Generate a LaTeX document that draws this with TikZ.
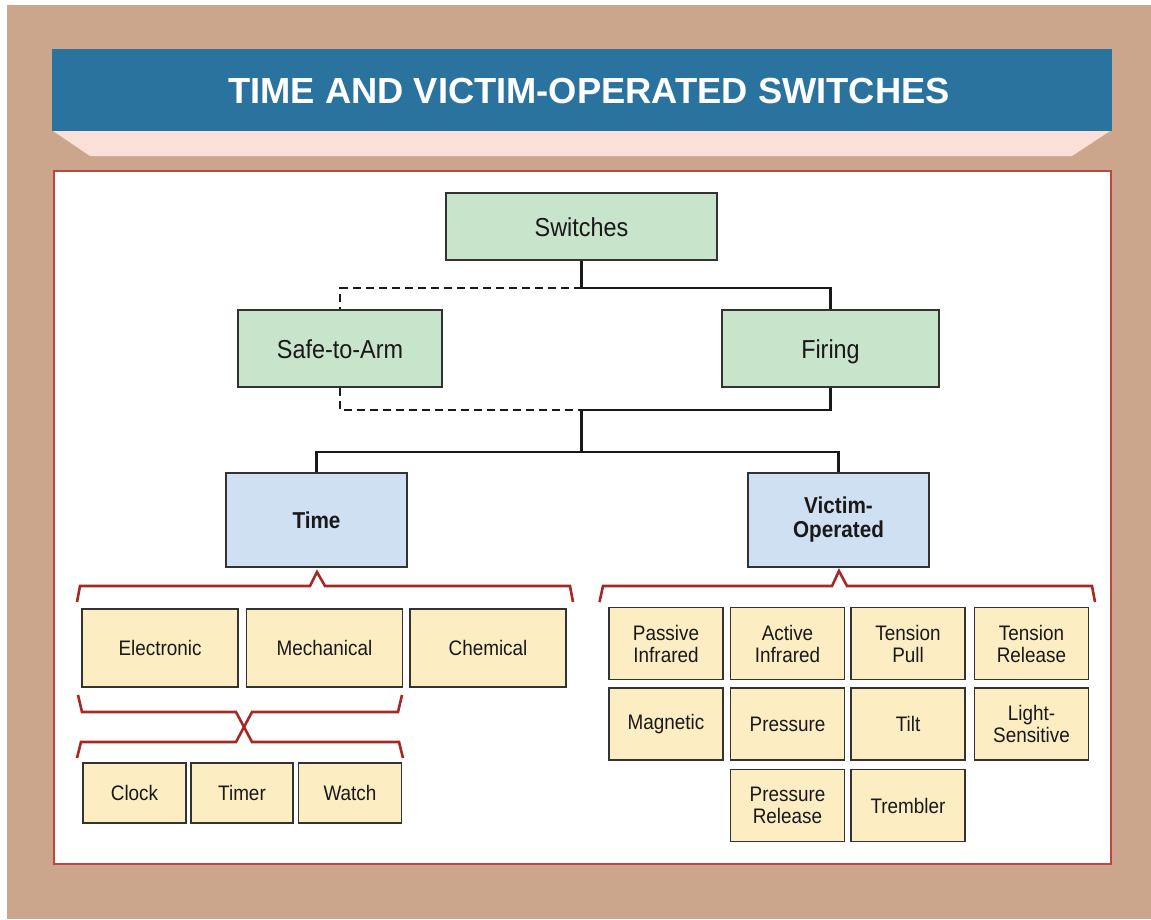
\documentclass[tikz,border=0pt]{standalone}
\usepackage{fontspec}
\setmainfont{Liberation Sans}
\newfontfamily\narrowfont[FakeStretch=0.9]{Liberation Sans}
\usetikzlibrary{positioning}
\definecolor{frameTan}{RGB}{203,166,140}
\definecolor{bannerBlue}{RGB}{42,115,158}
\definecolor{stripPink}{RGB}{250,224,214}
\definecolor{panelRed}{RGB}{190,70,60}
\definecolor{swGreen}{RGB}{200,228,202}
\definecolor{catBlue}{RGB}{207,224,243}
\definecolor{leafYellow}{RGB}{253,237,195}
\definecolor{bracketRed}{RGB}{165,40,35}

\begin{document}
\begin{tikzpicture}[x=1pt, y=-1pt,
  swbox/.style={draw=black!80, line width=1.5pt, fill=swGreen, inner sep=0pt, minimum height=77pt, text height=24pt, text depth=5pt, align=center, font=\narrowfont\fontsize{26}{29}\selectfont, text=black!90},
  catbox/.style={draw=black!80, line width=1.5pt, fill=catBlue, inner sep=0pt, minimum width=181pt, minimum height=94pt, align=center, font=\narrowfont\bfseries\fontsize{23}{24}\selectfont, text=black!90},
  leaf/.style={draw=black!80, line width=1.5pt, fill=leafYellow, inner sep=0pt, align=center, font=\narrowfont\fontsize{21}{22}\selectfont, text=black!90},
  vleaf/.style={leaf, minimum width=114pt, minimum height=72pt},
  conn/.style={line width=2.2pt, black!90},
  dashconn/.style={conn, line width=2.7pt, dash pattern=on 8pt off 5pt},
  brk/.style={line width=2.6pt, bracketRed, line join=miter}
]
  \useasboundingbox (0,0) rectangle (1151,919);
  % frame, banner and panel
  \fill[white] (0,0) rectangle (1151,919);
  \fill[frameTan] (7,5) rectangle (1151,919);
  \fill[bannerBlue] (52,49) rectangle (1112,131);
  \fill[stripPink] (53,131) -- (1110,131) -- (1072,156) -- (90,156) -- cycle;
  \draw[panelRed, line width=1.5pt, fill=white] (54,171) rectangle (1111,864);
  \node[anchor=base, text=white, font=\bfseries\fontsize{36.3}{40}\selectfont] (title) at (589,103) {TIME AND VICTIM-OPERATED SWITCHES};

  % top: switches
  \node[swbox, minimum width=271pt, minimum height=67pt] (sw) at (581.5,226.5) {Switches};
  \node[swbox, minimum width=204pt] (safe) at (340,348.5) {Safe-to-Arm};
  \node[swbox, minimum width=217pt] (fire) at (830.5,348.5) {Firing};

  \coordinate (j1) at (581.5,288);
  \coordinate (j2) at (581.5,410);
  \coordinate (j3) at (581.5,452);
  \draw[conn] (sw.south) -- (j1) -| (fire.north);
  \draw[dashconn] (j1) -| (safe.north);
  \draw[conn] (fire.south) |- (j2) -- (j3);
  \draw[dashconn] (safe.south) |- (j2);

  % middle: categories
  \node[catbox] (time) at (316.5,520) {Time};
  \node[catbox] (victim) at (838.5,520) {Victim-\\Operated};
  \draw[conn] (time.north) |- (j3) -| (victim.north);

  % time switches
  \draw[brk] (77,602) -- (80,586) -- (310,586) -- (317,572) -- (325,586) -- (570,586) -- (573,602);
  \node[leaf, minimum width=156pt, minimum height=78pt] (elec) at (160,648) {Electronic};
  \node[leaf, minimum width=156pt, minimum height=78pt] (mech) at (324.5,648) {Mechanical};
  \node[leaf, minimum width=156pt, minimum height=78pt] (chem) at (488,648) {Chemical};

  \draw[brk] (78,695) -- (82,712) -- (236,712) -- (252,742) -- (399,742) -- (403,758);
  \draw[brk] (77,758) -- (81,742) -- (236,742) -- (252,712) -- (398,712) -- (402,695);
  \node[leaf, minimum width=103pt, minimum height=60pt] (clock) at (134.5,793) {Clock};
  \node[leaf, minimum width=102pt, minimum height=60pt] (timer) at (242,793) {Timer};
  \node[leaf, minimum width=103pt, minimum height=60pt] (watch) at (350,793) {Watch};

  % victim-operated switches
  \draw[brk] (599.5,602) -- (603,586) -- (832,586) -- (839,571) -- (847,586) -- (1092,586) -- (1095,602);
  \node[vleaf] (pir) at (666,643.5) {Passive\\Infrared};
  \node[vleaf] (air) at (787.5,643.5) {Active\\Infrared};
  \node[vleaf] (tpull) at (908,643.5) {Tension\\Pull};
  \node[vleaf] (trel) at (1031.5,643.5) {Tension\\Release};
  \node[vleaf] (magn) at (666,724) {Magnetic};
  \node[vleaf] (press) at (787.5,724) {Pressure};
  \node[vleaf] (tilt) at (908,724) {Tilt};
  \node[vleaf] (light) at (1031.5,724) {Light-\\Sensitive};
  \node[vleaf] (prel) at (787.5,805.5) {Pressure\\Release};
  \node[vleaf] (tremb) at (908,805.5) {Trembler};
\end{tikzpicture}
\end{document}
